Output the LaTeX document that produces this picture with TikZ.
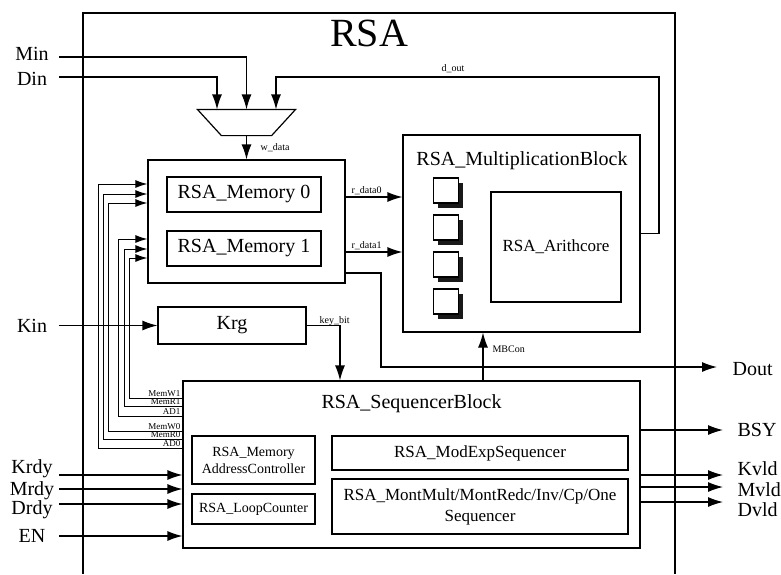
\documentclass[tikz,border=0pt]{standalone}
\usepackage{fontspec}
\setmainfont{Liberation Serif}
\usetikzlibrary{arrows.meta,shadows,calc}
\newcommand{\myfs}[2]{\fontsize{#1}{#2}\selectfont}
\begin{document}
\begin{tikzpicture}[x=1pt,y=-1pt,line width=1.2pt,
  box/.style={draw, rectangle, inner sep=0pt, align=center},
  arr/.style={-{Latex[length=15pt,width=10pt]}},
  sarr/.style={-{Latex[length=12pt,width=8pt]}, line width=1pt},
  lab/.style={font=\myfs{20}{24}, inner sep=0pt},
  small/.style={font=\myfs{10}{12}, inner sep=0pt},
  tiny/.style={font=\myfs{9}{10}, inner sep=0pt},
  sq/.style={draw, fill=white, minimum size=25pt, inner sep=0pt,
    general shadow={fill=black!90, shadow xshift=4.5pt, shadow yshift=-4.5pt}}]
\useasboundingbox (0,0) rectangle (781,574);

% outer RSA frame
\draw (83,574) -- (83,13) -- (675,13) -- (675,574);
\node[font=\myfs{40}{44}, inner sep=0pt, anchor=base] (title) at (369,46) {RSA};

% mux
\node[minimum width=97pt, minimum height=25pt, inner sep=0pt] (mux) at (246.5,122.5) {};
\draw (mux.north west) -- (mux.north east) -- ([xshift=-24pt]mux.south east) -- ([xshift=24pt]mux.south west) -- cycle;

% memory
\node[box, minimum width=197pt, minimum height=123pt] (mem) at (246.5,221.5) {};
\node[box, minimum width=154pt, minimum height=35pt, font=\myfs{20}{24}] (mem0) at (244,194.5) {RSA\_Memory 0};
\node[box, minimum width=154pt, minimum height=35pt, font=\myfs{20}{24}] (mem1) at (244,248.5) {RSA\_Memory 1};

% multiplication block
\node[box, minimum width=237pt, minimum height=197pt] (mb) at (521.5,233.5) {};
\node[font=\myfs{20}{24}, inner sep=0pt, anchor=base] (mbt) at (522,165) {RSA\_MultiplicationBlock};
\node[box, minimum width=130pt, minimum height=110pt, font=\myfs{17}{20}] (arith) at (556,247) {RSA\_Arithcore};
\node[sq] (sq1) at (446,190.5) {};
\node[sq] (sq2) at (446,227.5) {};
\node[sq] (sq3) at (446,264.5) {};
\node[sq] (sq4) at (446,301.5) {};

% Krg
\node[box, minimum width=148pt, minimum height=37pt, font=\myfs{20}{24}] (krg) at (232,325.5) {Krg};

% sequencer block
\node[box, minimum width=457pt, minimum height=167pt] (seq) at (411.5,464.5) {};
\node[font=\myfs{20}{24}, inner sep=0pt, anchor=base] (seqt) at (411.5,408) {RSA\_SequencerBlock};
\node[box, minimum width=123pt, minimum height=48pt, font=\myfs{14}{17}] (mac) at (253.5,460) {RSA\_Memory\\AddressController};
\node[box, minimum width=123pt, minimum height=30pt, font=\myfs{14}{17}] (loop) at (253.5,509) {RSA\_LoopCounter};
\node[box, minimum width=296pt, minimum height=34pt, font=\myfs{17}{20}] (modexp) at (480,453) {RSA\_ModExpSequencer};
\node[box, minimum width=296pt, minimum height=55pt, font=\myfs{17}{21}] (mont) at (480,506.5) {RSA\_MontMult/MontRedc/Inv/Cp/One\\Sequencer};

% inputs to mux
\node[lab, anchor=base] (nMin) at (32,60) {Min};
\node[lab, anchor=base] (nDin) at (32,85) {Din};
\coordinate (sMin) at (59,57);
\coordinate (sDin) at (59,77);
\draw[arr] (sMin) -| (mux.north);
\draw[arr] (sDin) -| ([xshift=-29.5pt]mux.north);
\coordinate (dc) at (659,77);
\draw[arr] (mb.east) -| (dc) -| ([xshift=29.5pt]mux.north);
\node[small, anchor=base] (ldout) at (453,71) {d\_out};

% w_data
\draw[arr] (mux.south) -- (mem.north);
\node[small, anchor=base west] (lwdata) at (260,150) {w\_data};

% r_data
\coordinate (r0) at ([yshift=24.5pt]mem.east);
\coordinate (r1) at ([yshift=-30.5pt]mem.east);
\draw[arr] (r0) -- (r0 -| mb.west);
\draw[arr] (r1) -- (r1 -| mb.west);
\node[small, anchor=base west] (lr0) at (351,193) {r\_data0};
\node[small, anchor=base west] (lr1) at (351,248) {r\_data1};

% Dout
\coordinate (dk) at (381,367);
\coordinate (eDout) at (717,367);
\draw[arr] ([yshift=-51.5pt]mem.east) -| (dk) -- (eDout);
\node[lab, anchor=base west] (nDout) at (732,375) {Dout};

% Kin
\node[lab, anchor=base] (nKin) at (32,332) {Kin};
\coordinate (sKin) at (59,325.5);
\draw[arr] (sKin) -- (krg.west);

% key_bit
\draw[arr] (krg.east) -| ([xshift=-71.5pt]seq.north);
\node[small, anchor=base west] (lkey) at (319,323) {key\_bit};

% MBCon
\coordinate (mbc) at ([xshift=71.5pt]seq.north);
\draw[arr] (mbc) -- (mbc |- mb.south);
\node[small, anchor=base west] (lmbc) at (492,352) {MBCon};

% bundle sequencer -> memory
\foreach \nm/\x/\yb/\yt in {AD0/98/448/184, MemR0/103/439/194, MemW0/108/431/203, AD1/118/416/239, MemR1/124/406/249, MemW1/129/398/258} {
  \coordinate (b\nm) at (\x,\yb);
  \coordinate (t\nm) at (\x,\yt);
  \draw[sarr] (b\nm -| seq.west) -- (b\nm) -- (t\nm) -- (t\nm -| mem.west);
  \node[tiny, anchor=base east] (l\nm) at (181,\yb-2) {\nm};
}

% inputs to sequencer
\foreach \nm/\y/\b in {Krdy/475/473, Mrdy/489/495, Drdy/504/514, EN/536/542} {
  \coordinate (i\nm) at (59,\y);
  \draw[arr] (i\nm) -- (i\nm -| seq.west);
  \node[lab, anchor=base] (n\nm) at (32,\b) {\nm};
}

% outputs of sequencer
\foreach \nm/\y/\b in {BSY/430/436, Kvld/475/475, Mvld/487/496, Dvld/502/516} {
  \coordinate (o\nm) at (723,\y);
  \draw[arr] (o\nm -| seq.east) -- (o\nm);
  \node[lab, anchor=base west] (n\nm) at (737,\b) {\nm};
}
\end{tikzpicture}
\end{document}
